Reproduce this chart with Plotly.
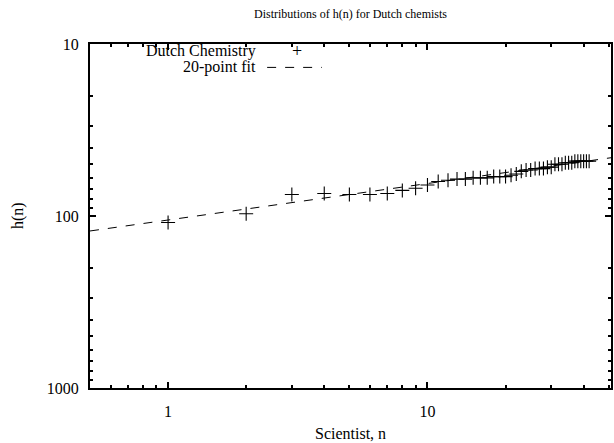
import numpy as np
import plotly.graph_objects as go

# Data
scientist_n = list(range(1, 43))
h_values = [109, 97, 75, 74, 75, 75, 74, 71, 69, 66,
            63, 62, 61, 61, 60, 60, 60, 59, 59, 59,
            58, 57, 55, 54, 54, 53, 53, 53, 52, 52,
            50, 50, 50, 49, 49, 49, 48, 48, 48, 48,
            48, 48]

# 20-point power-law fit parameters (h = fit_coef * n ** fit_exp)
fit_coef = 105.5
fit_exp = -0.212
fit_n_range = [0.5, 52]

x_tick_vals = [1, 10]
y_tick_vals = [10, 100, 1000]

title_text = "Distributions of h(n) for Dutch chemists"
x_title = "Scientist, n"
y_title = "h(n)"
legend_labels = ["Dutch Chemistry", "20-point fit"]

fit_x = np.geomspace(fit_n_range[0], fit_n_range[1], 60)
fit_y = fit_coef * fit_x ** fit_exp

FONT = "Liberation Serif"
FS = 16

fig = go.Figure()
fig.add_trace(go.Scatter(
    x=fit_x, y=fit_y, mode="lines",
    line=dict(color="black", width=1, dash="dash"),
    showlegend=False, hoverinfo="skip"))
fig.add_trace(go.Scatter(
    x=scientist_n, y=h_values, mode="markers",
    marker=dict(symbol="cross-thin", size=10, color="black",
                line=dict(color="black", width=1.1)),
    showlegend=False))

x_minor = [v * d for d in (0.1, 1, 10) for v in range(2, 10)]
y_minor = [v * d for d in (10, 100) for v in range(2, 10)]

axis_common = dict(
    type="log", showgrid=False, zeroline=False, automargin=False,
    showline=True, linecolor="black", linewidth=2, mirror="ticks",
    ticks="inside", ticklen=6, tickwidth=1.5, tickcolor="black",
    tickfont=dict(family=FONT, size=FS, color="black"),
)

fig.update_xaxes(
    **axis_common,
    range=[np.log10(0.5), np.log10(51)],
    tickmode="array", tickvals=x_tick_vals,
    ticktext=[str(v) for v in x_tick_vals],
    ticklabelstandoff=8,
    minor=dict(tickmode="array", tickvals=x_minor, ticks="inside",
               ticklen=3, tickwidth=1.5, tickcolor="black"),
)
fig.update_yaxes(
    **axis_common,
    range=[np.log10(1000), np.log10(10)],
    tickmode="array", tickvals=y_tick_vals,
    ticktext=[str(v) for v in y_tick_vals],
    ticklabelstandoff=6,
    minor=dict(tickmode="array", tickvals=y_minor, ticks="inside",
               ticklen=3, tickwidth=1.5, tickcolor="black"),
)

# axis titles
fig.add_annotation(x=0.5, y=0, xref="paper", yref="paper", yshift=-45,
                   text=x_title, showarrow=False, xanchor="center",
                   yanchor="middle", font=dict(family=FONT, size=FS, color="black"))
fig.add_annotation(x=0, y=0.5, xref="paper", yref="paper", xshift=-72,
                   text=y_title, showarrow=False, textangle=-90,
                   xanchor="center", yanchor="middle",
                   font=dict(family=FONT, size=FS, color="black"))

# gnuplot-style key: text right-justified, sample to the right
key_right = 0.32
key_rows = [0.98, 0.932]
for label, row in zip(legend_labels, key_rows):
    fig.add_annotation(x=key_right, y=row, xref="paper", yref="paper",
                       text=label, showarrow=False, xanchor="right",
                       yanchor="middle", borderpad=0,
                       font=dict(family=FONT, size=FS, color="black"))
fig.add_annotation(x=key_right + 0.078, y=key_rows[0], xref="paper", yref="paper",
                   text="+", showarrow=False, xanchor="center", yanchor="middle",
                   borderpad=0, font=dict(family=FONT, size=18, color="black"))
fig.add_shape(type="line", xref="paper", yref="paper",
              x0=key_right + 0.02, x1=key_right + 0.125,
              y0=key_rows[1], y1=key_rows[1],
              line=dict(color="black", width=1, dash="dash"))

fig.update_layout(
    width=614, height=443,
    margin=dict(l=90, r=3, t=44, b=55),
    plot_bgcolor="white", paper_bgcolor="white",
    title=dict(text=title_text, x=0.5, xref="paper", xanchor="center",
               y=0.968, yanchor="middle",
               font=dict(family=FONT, size=12, color="black")),
)

fig.write_html("out.html",
               config={"displayModeBar": False},
               post_script="document.body.style.margin='0';document.body.style.overflow='hidden';")
